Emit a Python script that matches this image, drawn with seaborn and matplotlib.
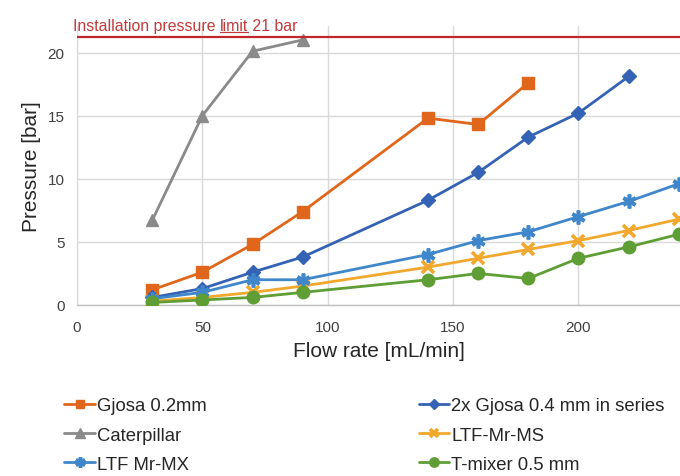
import matplotlib
matplotlib.use("Agg")
import matplotlib.pyplot as plt
import seaborn as sns
import pandas as pd

# ---------------- data ----------------
flow_short = [30, 50, 70, 90]
flow_gjosa = [30, 50, 70, 90, 140, 160, 180]
flow_2x = [30, 50, 70, 90, 140, 160, 180, 200, 220]
flow_long = [30, 50, 70, 90, 140, 160, 180, 200, 220, 240]

gjosa_02 = [1.2, 2.6, 4.8, 7.4, 14.8, 14.3, 17.6]
gjosa_2x = [0.6, 1.3, 2.6, 3.8, 8.3, 10.5, 13.3, 15.2, 18.1]
caterpillar = [6.7, 15.0, 20.1, 21.0]
ltf_ms = [0.3, 0.6, 1.0, 1.5, 3.0, 3.7, 4.4, 5.1, 5.9, 6.8]
ltf_mx = [0.5, 1.0, 2.0, 2.0, 4.0, 5.1, 5.8, 7.0, 8.2, 9.6]
tmixer = [0.2, 0.4, 0.6, 1.0, 2.0, 2.5, 2.1, 3.7, 4.6, 5.6]

labels = ["Gjosa 0.2mm", "2x Gjosa 0.4 mm in series", "Caterpillar",
          "LTF-Mr-MS", "LTF Mr-MX", "T-mixer 0.5 mm"]
limit_value = 21.2
limit_text = ["Installation pressure ", "limit", " 21 bar"]
x_ticks = [0, 50, 100, 150, 200]
y_ticks = [0, 5, 10, 15, 20]

series = [
    (labels[0], flow_gjosa, gjosa_02, "#E0661C", "s", 8, 1.0),
    (labels[1], flow_2x, gjosa_2x, "#3462B4", "D", 7, 1.0),
    (labels[2], flow_short, caterpillar, "#8A8A8A", "^", 9, 1.0),
    (labels[3], flow_long, ltf_ms, "#F1A82C", "x", 8, 2.6),
    (labels[4], flow_long, ltf_mx, "#3F87CA", (6, 2, 0), 10, 2.6),
    (labels[5], flow_long, tmixer, "#5E9E34", "o", 9, 1.0),
]

# ---------------- figure ----------------
sns.set_style("white")
plt.rcParams["font.family"] = ["Liberation Sans", "DejaVu Sans"]

W, H = 680, 477
fig = plt.figure(figsize=(W / 100, H / 100), dpi=100)
ax = fig.add_axes([77 / W, 1 - 306 / H, 603 / W, 279 / H])

for name, xs, ys, col, mk, ms, mew in series:
    df = pd.DataFrame({"x": xs, "y": ys})
    sns.lineplot(data=df, x="x", y="y", ax=ax, color=col, marker=mk,
                 markersize=ms, markeredgecolor=col, markerfacecolor=col,
                 markeredgewidth=mew, linewidth=2.0, label=name,
                 clip_on=True, zorder=3)

ax.axhline(limit_value, color="#C0262C", lw=1.6, zorder=4)

ax.set_xlim(0, 240.5)
ax.set_ylim(0, 22.1)
ax.set_xticks(x_ticks)
ax.set_yticks(y_ticks)
ax.grid(True, color="#D9D9D9", lw=1.0, zorder=0)
ax.set_axisbelow(True)
for s in ["top", "right"]:
    ax.spines[s].set_visible(False)
ax.spines["left"].set_color("#D9D9D9")
ax.spines["bottom"].set_color("#BFBFBF")
ax.spines["bottom"].set_linewidth(1.0)
ax.tick_params(axis="x", length=0, labelsize=11, labelcolor="#404040", pad=11)
ax.tick_params(axis="y", length=0, labelsize=11, labelcolor="#404040", pad=9)
ax.set_xlabel("Flow rate [mL/min]", fontsize=15, color="#262626", labelpad=5)
ax.set_ylabel("Pressure [bar]", fontsize=15, color="#262626", labelpad=5)

# limit annotation text with underlined "limit"
tcol = "#C23A3C"
fs_t = 11.4
base_y = 1 - 31 / H
t1 = fig.text(73 / W, base_y, limit_text[0], fontsize=fs_t, color=tcol, va="baseline")
t2 = ax.annotate(limit_text[1], xy=(1, 0), xycoords=t1, va="bottom", ha="left",
                 fontsize=fs_t, color=tcol, annotation_clip=False)
t3 = ax.annotate(limit_text[2], xy=(1, 0), xycoords=t2, va="bottom", ha="left",
                 fontsize=fs_t, color=tcol, annotation_clip=False)
fig.canvas.draw()
r = fig.canvas.get_renderer()
bb2 = t2.get_window_extent(r)
yline = base_y - 1.8 / H
fig.add_artist(plt.Line2D([bb2.x0 / W, bb2.x1 / W], [yline, yline],
                          color=tcol, lw=0.9, transform=fig.transFigure))

# legend
handles, labs = ax.get_legend_handles_labels()
ax.get_legend().remove()
order = [0, 2, 4, 1, 3, 5]
leg = fig.legend([handles[i] for i in order], [labs[i] for i in order],
                 loc="upper left", bbox_to_anchor=(57 / W, 1 - 391 / H), ncol=2,
                 frameon=False, fontsize=13.3, handlelength=1.65, handletextpad=0.1,
                 labelspacing=0.66, columnspacing=11.5, borderaxespad=0,
                 labelcolor="#262626")
for ln in leg.get_lines():
    ln.set_markersize(ln.get_markersize() * 0.75)

fig.savefig("out.png", dpi=100)
